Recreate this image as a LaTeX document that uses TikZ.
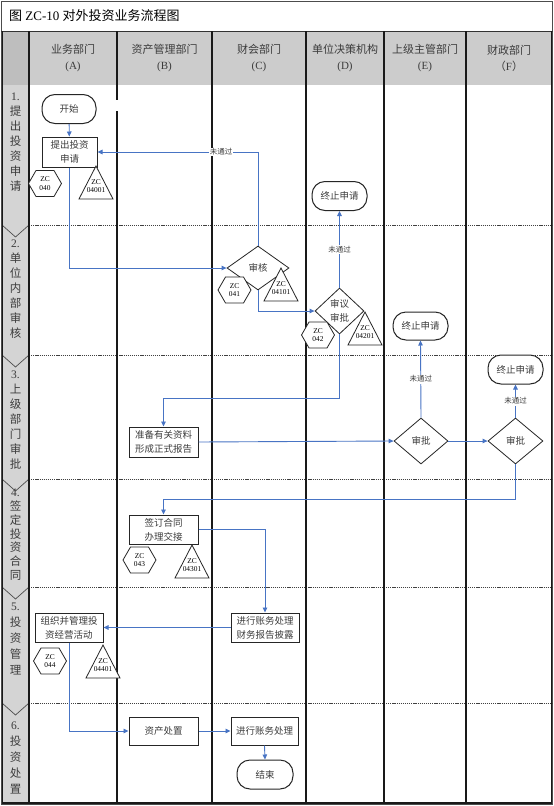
\documentclass[tikz,border=0pt]{standalone}
\usepackage{fontspec}
\setmainfont{Liberation Serif}
\newfontfamily\cjk{Noto Sans CJK SC}
\usetikzlibrary{shapes.geometric,shapes.symbols,arrows.meta}
\definecolor{flowblue}{RGB}{72,116,196}
\definecolor{hdrgray}{RGB}{204,204,204}
\definecolor{hdrdark}{RGB}{190,190,190}
\definecolor{phasegray}{RGB}{212,212,212}
\definecolor{txtgray}{RGB}{60,60,60}
\newcommand\zctri[4]{\draw[tribox] (#2,#3) -- ++(17,33) -- ++(-34,0) -- cycle;
  \node[zclabel] (#1) at (#2,#3+20) {#4};}
\begin{document}
\begin{tikzpicture}[x=1pt,y=-1pt,
  nodefont/.style={font=\cjk\fontsize{9.5}{14}\selectfont},
  stepbox/.style={draw=black!85, line width=1pt, fill=white, text=txtgray, nodefont, align=center, inner sep=1pt, minimum height=29pt},
  termbox/.style={stepbox, rounded corners=13pt},
  decbox/.style={diamond, draw=black!85, line width=0.8pt, fill=white, text=txtgray, nodefont, align=center, inner sep=0pt},
  hexbox/.style={signal, signal to=east and west, signal pointer angle=120, draw=black!85, line width=0.8pt, fill=white, minimum width=33pt, minimum height=26pt, inner sep=0pt, align=center, font=\rmfamily\fontsize{7.4}{8.8}\selectfont, text=black},
  tribox/.style={draw=black!85, line width=0.8pt, fill=white},
  zclabel/.style={align=center, inner sep=0pt, font=\rmfamily\fontsize{7.4}{8.8}\selectfont, text=black},
  flow/.style={draw=flowblue, line width=0.9pt, -{Triangle[length=5pt,width=4.5pt]}},
  nolabel/.style={fill=white, inner sep=1pt, text=txtgray, font=\cjk\fontsize{7.5}{9}\selectfont},
  colline/.style={line width=1.3pt, black!90},
  phaseline/.style={dash pattern=on 1.2pt off 0.9pt, line width=0.9pt, black!75},
  chev/.style={line width=0.7pt, black!70},
  hdr/.style={align=center, font=\cjk\fontsize{11}{16}\selectfont, text=txtgray},
  phase/.style={align=center, anchor=north, inner sep=0pt, font=\cjk\fontsize{11.5}{#1}\selectfont, text=txtgray},
  phase/.default=15,
]
\useasboundingbox (0,0) rectangle (554,806);
\fill[white] (0,0) rectangle (554,806);
% backgrounds
\fill[hdrgray] (2,31) rectangle (552,85);
\fill[hdrdark] (2,31) rectangle (29,85);
\fill[phasegray] (2,85) rectangle (29,803);
% frame
\draw[line width=0.8pt, black!70] (1,1) rectangle (552.5,804.5);
\draw[line width=0.8pt, black!80] (1,31) -- (552.5,31);
% phase separators
\foreach \b in {225,355,479,587,703}{
  \draw[phaseline] (29,\b) -- (552,\b);
  \draw[chev] (2,\b) -- (15.5,\b+12) -- (29,\b);
}
% column lines
\draw[colline] (2.5,31) -- (2.5,803);
\draw[colline] (29,31) -- (29,803);
\draw[colline] (117,31) -- (117,100);
\draw[colline] (117,111) -- (117,803);
\foreach \x in {212,306,384,466,551.5}{\draw[colline] (\x,31) -- (\x,803);}
\draw[line width=1.5pt, black!90] (2,803) -- (552,803);

% title
\node[anchor=west, font=\fontsize{13}{15}\selectfont, text=black, inner sep=0pt] (title) at (9,16) {{\cjk 图} ZC-10 {\cjk 对外投资业务流程图}};
% headers
\node[hdr] (hA) at (73,58) {业务部门\\{\rmfamily (A)}};
\node[hdr] (hB) at (164.5,58) {资产管理部门\\{\rmfamily (B)}};
\node[hdr] (hC) at (259,58) {财会部门\\{\rmfamily (C)}};
\node[hdr] (hD) at (345,58) {单位决策机构\\{\rmfamily (D)}};
\node[hdr] (hE) at (425,58) {上级主管部门\\{\rmfamily (E)}};
\node[hdr] (hF) at (509,58) {财政部门\\（{\rmfamily F}）};
% phase labels
\node[phase] (p1) at (15.5,93) {{\rmfamily 1.}\\提\\出\\投\\资\\申\\请};
\node[phase] (p2) at (15.5,240) {{\rmfamily 2.}\\单\\位\\内\\部\\审\\核};
\node[phase] (p3) at (15.5,371) {{\rmfamily 3.}\\上\\级\\部\\门\\审\\批};
\node[phase=13.8] (p4) at (15.5,489) {{\rmfamily 4.}\\签\\定\\投\\资\\合\\同};
\node[phase=16] (p5) at (15.5,603) {{\rmfamily 5.}\\投\\资\\管\\理};
\node[phase=16] (p6) at (15.5,722) {{\rmfamily 6.}\\投\\资\\处\\置};

% flow nodes
\node[termbox, minimum width=54pt] (start) at (69,109) {开始};
\node[stepbox, minimum width=55pt, minimum height=30pt] (n1) at (69.5,152) {提出投资\\申请};
\node[decbox, minimum width=62pt, minimum height=44pt] (d1) at (258,268) {审核};
\node[decbox, minimum width=49pt, minimum height=46pt] (d2) at (339.5,311) {审议\\审批};
\node[termbox, minimum width=55pt] (end1) at (339.5,196) {终止申请};
\node[stepbox, minimum width=69pt, minimum height=30pt] (b2) at (163.5,442) {准备有关资料\\形成正式报告};
\node[decbox, minimum width=54pt, minimum height=46pt] (d3) at (421,441) {审批};
\node[termbox, minimum width=55pt, minimum height=28pt] (end2) at (420.5,326) {终止申请};
\node[decbox, minimum width=55pt, minimum height=46pt] (d4) at (515.5,441) {审批};
\node[termbox, minimum width=55pt] (end3) at (515.5,369.5) {终止申请};
\node[stepbox, minimum width=69pt] (b3) at (163.5,529.5) {签订合同\\办理交接};
\node[stepbox, minimum width=68pt] (b4) at (265,627.5) {进行账务处理\\财务报告披露};
\node[stepbox, minimum width=68pt] (b5) at (69,627.5) {组织并管理投\\资经营活动};
\node[stepbox, minimum width=69pt, minimum height=28pt] (b6) at (163.5,731) {资产处置};
\node[stepbox, minimum width=67pt, minimum height=28pt] (b7) at (264.5,731) {进行账务处理};
\node[termbox, minimum width=56pt] (endf) at (265,774.5) {结束};

% control point markers
\node[hexbox] (h1) at (45,183.5) {ZC\\040};
\zctri{t1}{96}{166}{ZC\\04001}
\node[hexbox] (h2) at (234.5,290) {ZC\\041};
\zctri{t2}{281}{268}{ZC\\04101}
\node[hexbox] (h3) at (318,335) {ZC\\042};
\zctri{t3}{365}{312}{ZC\\04201}
\node[hexbox] (h4) at (139.5,560) {ZC\\043};
\zctri{t4}{192}{545}{ZC\\04301}
\node[hexbox] (h5) at (50,661) {ZC\\044};
\zctri{t5}{103}{645}{ZC\\04401}

% connectors
\draw[flow] (start) -- (n1);
\draw[flow] (n1.south) |- (d1.west);
\draw[flow] (d1.north) |- node[nolabel, pos=0.615] {未通过} (n1.east);
\draw[flow] (d1.south) |- (d2.west);
\draw[flow] (d2.north) -- node[nolabel] {未通过} (end1.south);
\draw[flow] (d2.south) -- ++(0,64) -| (b2.north);
\draw[flow] (b2.east) -- (d3.west);
\draw[flow] (d3.north) -- node[nolabel] {未通过} (end2.south);
\draw[flow] (d3.east) -- (d4.west);
\draw[flow] (d4.north) -- node[nolabel] {未通过} (end3.south);
\draw[flow] (d4.south) -- ++(0,35) -| (b3.north);
\draw[flow] (b3.east) -| (b4.north);
\draw[flow] (b4.west) -- (b5.east);
\draw[flow] (b5.south) |- (b6.west);
\draw[flow] (b6.east) -- (b7.west);
\draw[flow] (b7.south) -- (endf.north);
\end{tikzpicture}
\end{document}
